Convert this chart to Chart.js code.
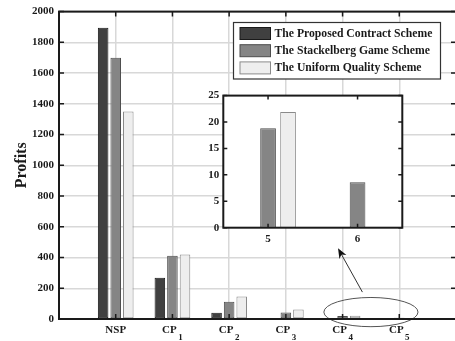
<!DOCTYPE html>
<html>
<head>
<meta charset="utf-8">
<script src="https://cdn.jsdelivr.net/npm/chart.js@4.4.1/dist/chart.umd.min.js"></script>
<style>
  html, body { margin: 0; padding: 0; background: #fff; overflow: hidden; }
  #wrap { position: relative; width: 455px; height: 341px; overflow: hidden; }
  #main { position: absolute; left: 0; top: 0; }
  #inset { position: absolute; left: 190px; top: 85px; }
</style>
</head>
<body>
<div id="wrap">
  <canvas id="main" width="458" height="341"></canvas>
  <canvas id="inset" width="220" height="170"></canvas>
</div>
<script>
// axis runs 0..7, so the first and last slots stay empty
const categories = ['', 'NSP', 'CP1', 'CP2', 'CP3', 'CP4', 'CP5', ''];
const seriesNames = ['The Proposed Contract Scheme', 'The Stackelberg Game Scheme', 'The Uniform Quality Scheme'];
const contract    = [null, 1895, 268, 41, 3, 0, 0, null];
const stackelberg = [null, 1700, 411, 112, 43, 18.8, 8.6, null];
const uniform     = [null, 1350, 420, 146, 62, 21.9, 0, null];

// zoomed view of CP4 / CP5 (x index 5 and 6)
const insetLabels = ['5', '6'];
const insetContract = contract.slice(5, 7);
const insetStackelberg = stackelberg.slice(5, 7);
const insetUniform = uniform.slice(5, 7);

const FONT = '"Liberation Serif", "Times New Roman", serif';
const INK = '#1a1a1a';
const GRID = '#d8d8d8';
const fills = ['#404040', '#858585', '#eeeeee'];
const edges = ['#1a1a1a', '#4d4d4d', '#8a8a8a'];

function makeSets(lists) {
    return lists.map((d, i) => ({
        label: seriesNames[i],
        data: d,
        backgroundColor: fills[i],
        borderColor: edges[i],
        borderWidth: 1,
        borderSkipped: false
    }));
}

// box with inward ticks, like the matlab axes
function drawFrame(chart, xVals, tickLen) {
    const {ctx, chartArea: a, scales: {x, y}} = chart;
    ctx.save();
    ctx.strokeStyle = INK;
    ctx.lineWidth = 1.5;
    ctx.beginPath();
    xVals.forEach(v => {
        const px = x.getPixelForValue(v);
        ctx.moveTo(px, a.bottom); ctx.lineTo(px, a.bottom - tickLen);
        ctx.moveTo(px, a.top); ctx.lineTo(px, a.top + tickLen);
    });
    y.ticks.forEach(t => {
        const py = y.getPixelForValue(t.value);
        ctx.moveTo(a.left, py); ctx.lineTo(a.left + tickLen, py);
        ctx.moveTo(a.right, py); ctx.lineTo(a.right - tickLen, py);
    });
    ctx.stroke();
    ctx.lineWidth = 2;
    ctx.strokeRect(a.left, a.top, a.right - a.left, a.bottom - a.top);
    ctx.restore();
}

const mainPlugin = {
    id: 'mainExtras',
    beforeDraw(chart) {
        const ctx = chart.ctx;
        ctx.save();
        ctx.fillStyle = '#fff';
        ctx.fillRect(0, 0, chart.width, chart.height);
        ctx.restore();
    },
    afterDraw(chart) {
        const {ctx, chartArea, scales: {x, y}} = chart;

        // ellipse round CP4/CP5 and the arrow to the inset
        ctx.save();
        const cx = x.getPixelForValue(5.5), cy = y.getPixelForValue(45);
        const rx = x.getPixelForValue(6.33) - cx, ry = y.getPixelForValue(0) - y.getPixelForValue(95);
        ctx.strokeStyle = '#555';
        ctx.lineWidth = 1;
        ctx.beginPath();
        ctx.ellipse(cx, cy, rx, ry, 0, 0, Math.PI * 2);
        ctx.stroke();
        const x0 = x.getPixelForValue(5.35), y0 = y.getPixelForValue(175);
        const x1 = x.getPixelForValue(4.92), y1 = y.getPixelForValue(460);
        const ang = Math.atan2(y1 - y0, x1 - x0);
        ctx.strokeStyle = '#333';
        ctx.beginPath();
        ctx.moveTo(x0, y0);
        ctx.lineTo(x1 - 6 * Math.cos(ang), y1 - 6 * Math.sin(ang));
        ctx.stroke();
        ctx.fillStyle = '#111';
        ctx.beginPath();
        ctx.moveTo(x1, y1);
        ctx.lineTo(x1 - 10 * Math.cos(ang) + 4 * Math.sin(ang), y1 - 10 * Math.sin(ang) - 4 * Math.cos(ang));
        ctx.lineTo(x1 - 7 * Math.cos(ang), y1 - 7 * Math.sin(ang));
        ctx.lineTo(x1 - 10 * Math.cos(ang) - 4 * Math.sin(ang), y1 - 10 * Math.sin(ang) + 4 * Math.cos(ang));
        ctx.closePath();
        ctx.fill();
        ctx.restore();

        drawFrame(chart, [1, 2, 3, 4, 5, 6], 5);

        // category labels with subscripts
        ctx.save();
        ctx.fillStyle = INK;
        ctx.textAlign = 'left';
        ctx.textBaseline = 'alphabetic';
        categories.forEach((lab, i) => {
            if (!lab) return;
            const m = lab.match(/^([A-Z]+)(\d*)$/);
            const px = x.getPixelForValue(i);
            ctx.font = 'bold 11px ' + FONT;
            const w1 = ctx.measureText(m[1]).width;
            ctx.font = 'bold 9px ' + FONT;
            const w2 = m[2] ? ctx.measureText(m[2]).width + 1.5 : 0;
            const left = px - (w1 + w2) / 2;
            ctx.font = 'bold 11px ' + FONT;
            ctx.fillText(m[1], left, chartArea.bottom + 14);
            if (m[2]) {
                ctx.font = 'bold 9px ' + FONT;
                ctx.fillText(m[2], left + w1 + 1.5, chartArea.bottom + 20.5);
            }
        });
        ctx.restore();

        // legend
        ctx.save();
        ctx.fillStyle = '#fff';
        ctx.fillRect(233.5, 22.5, 207, 56.5);
        ctx.strokeStyle = '#333';
        ctx.lineWidth = 1.2;
        ctx.strokeRect(233.5, 22.5, 207, 56.5);
        ctx.font = 'bold 11.7px ' + FONT;
        ctx.textBaseline = 'middle';
        chart.data.datasets.forEach((ds, i) => {
            const rowY = 33.5 + i * 17.2;
            ctx.fillStyle = ds.backgroundColor;
            ctx.fillRect(240, rowY - 6, 30.5, 12);
            ctx.strokeStyle = ds.borderColor;
            ctx.lineWidth = 1;
            ctx.strokeRect(240, rowY - 6, 30.5, 12);
            ctx.fillStyle = INK;
            ctx.fillText(ds.label, 274.5, rowY + 0.5);
        });
        ctx.restore();
    }
};

new Chart(document.getElementById('main'), {
    type: 'bar',
    data: {
        labels: categories,
        datasets: makeSets([contract, stackelberg, uniform])
    },
    options: {
        responsive: false,
        animation: false,
        layout: { padding: { top: 7, right: 2, bottom: 22, left: 0 } },
        datasets: { bar: { categoryPercentage: 0.665, barPercentage: 0.84 } },
        plugins: { legend: { display: false }, tooltip: { enabled: false } },
        scales: {
            x: {
                offset: false,
                grid: { offset: false, color: GRID, lineWidth: 1.5, drawTicks: false, tickLength: 0 },
                border: { display: false },
                ticks: { display: false }
            },
            y: {
                min: 0,
                max: 2000,
                ticks: {
                    stepSize: 200, padding: 5, color: INK,
                    font: { family: FONT, size: 11, weight: 'bold' },
                    callback: v => String(v)
                },
                grid: { color: GRID, lineWidth: 1.5, drawTicks: false, tickLength: 0 },
                border: { display: false },
                title: {
                    display: true,
                    text: 'Profits',
                    color: INK,
                    padding: { top: 12, bottom: 0 },
                    font: { family: FONT, size: 16, weight: 'bold' }
                },
                afterFit(scale) { scale.width = 59; }
            }
        }
    },
    plugins: [mainPlugin]
});

const insetPlugin = {
    id: 'insetExtras',
    beforeDraw(chart) {
        const {ctx, chartArea: a} = chart;
        ctx.save();
        ctx.fillStyle = '#fff';
        ctx.fillRect(a.left, a.top, a.right - a.left, a.bottom - a.top);
        ctx.restore();
    },
    afterDraw(chart) {
        drawFrame(chart, [0, 1], 4);
    }
};

new Chart(document.getElementById('inset'), {
    type: 'bar',
    data: {
        labels: insetLabels,
        datasets: makeSets([insetContract, insetStackelberg, insetUniform])
    },
    options: {
        responsive: false,
        animation: false,
        layout: { padding: { top: 9, right: 7.7, bottom: 0, left: 0 } },
        datasets: { bar: { categoryPercentage: 0.67, barPercentage: 0.785 } },
        plugins: { legend: { display: false }, tooltip: { enabled: false } },
        scales: {
            x: {
                grid: { display: false, drawTicks: false, tickLength: 0 },
                border: { display: false },
                ticks: { padding: 5, color: INK, font: { family: FONT, size: 11, weight: 'bold' } },
                afterFit(scale) { scale.height = 27.3; }
            },
            y: {
                min: 0,
                max: 25,
                grid: { display: false, drawTicks: false, tickLength: 0 },
                border: { display: false },
                ticks: { stepSize: 5, padding: 4, color: INK, font: { family: FONT, size: 11, weight: 'bold' } },
                afterFit(scale) { scale.width = 33.3; }
            }
        }
    },
    plugins: [insetPlugin]
});
</script>
</body>
</html>
